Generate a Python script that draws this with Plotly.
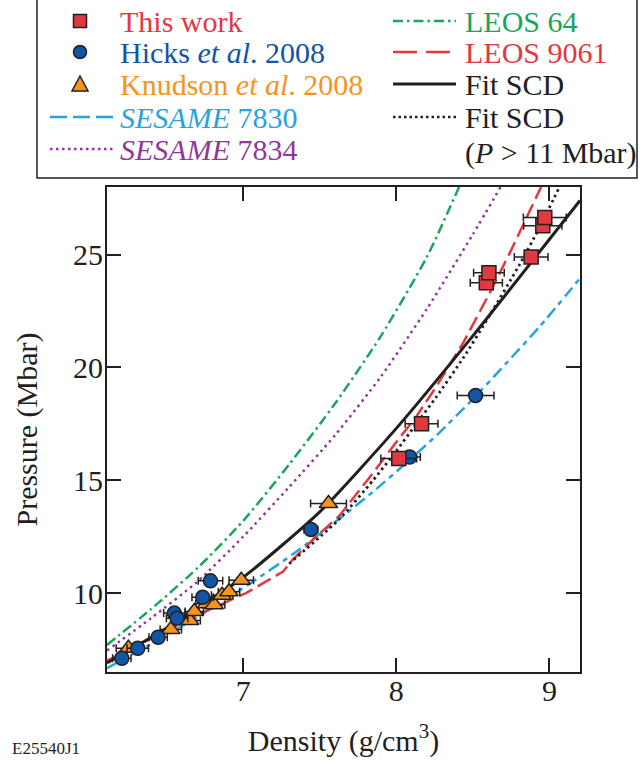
import plotly.graph_objects as go

# ---------------- data ----------------
this_work_rho = [8.016, 8.165, 8.588, 8.605, 8.881, 8.957, 8.970]
this_work_p = [15.96, 17.51, 23.76, 24.20, 24.90, 26.28, 26.65]
this_work_err = [0.117, 0.107, 0.105, 0.10, 0.11, 0.125, 0.14]

hicks_rho = [6.207, 6.311, 6.444, 6.550, 6.568, 6.735, 6.786, 7.442, 8.087, 8.518]
hicks_p = [7.11, 7.55, 8.04, 9.11, 8.88, 9.81, 10.54, 12.82, 16.03, 18.76]
hicks_err = [0.06, 0.07, 0.06, 0.07, 0.07, 0.07, 0.08, 0.045, 0.07, 0.12]

knudson_rho = [6.250, 6.527, 6.650, 6.680, 6.760, 6.810, 6.862, 6.907, 6.987, 7.557]
knudson_p = [7.55, 8.38, 8.78, 9.18, 9.52, 9.48, 9.90, 10.06, 10.57, 13.97]
knudson_err = [0.08, 0.07, 0.07, 0.06, 0.07, 0.07, 0.07, 0.07, 0.08, 0.117]

sesame7830_rho = [6.11, 6.44, 6.75, 7.04, 7.33, 7.63, 7.85, 8.07, 8.28, 8.50, 8.72, 8.935, 9.2]
sesame7830_p = [6.67, 7.9, 9.15, 10.4, 11.75, 13.3, 14.5, 15.8, 17.1, 18.6, 20.2, 21.8, 23.95]

sesame7834_rho = [6.11, 6.4, 6.7, 7.0, 7.3, 7.6, 7.9, 8.2, 8.5, 8.69]
sesame7834_p = [7.45, 8.9, 10.5, 12.5, 14.7, 17.0, 19.6, 22.6, 25.9, 28.1]

leos64_rho = [6.11, 6.4, 6.7, 7.0, 7.3, 7.6, 7.9, 8.2, 8.41]
leos64_p = [7.7, 9.3, 11.1, 13.2, 15.7, 18.4, 21.4, 24.9, 28.0]

leos9061_rho = [6.11, 6.43, 6.757, 7.018, 7.19, 7.26, 7.32, 7.453, 7.631, 7.848,
                7.978, 8.131, 8.262, 8.435, 8.609, 8.74, 8.946]
leos9061_p = [7.0, 8.07, 9.2, 10.0, 10.65, 10.95, 11.46, 12.35, 13.45, 15.32,
              16.5, 17.83, 19.16, 21.07, 23.29, 25.06, 28.0]

fit_rho = [6.11, 6.5, 7.0, 7.5, 8.0, 8.5, 9.2]
fit_p = [6.9, 8.45, 10.7, 13.6, 17.3, 21.4, 27.4]

fit11_rho = [7.3, 7.631, 7.848, 8.0, 8.131, 8.262, 8.435, 8.609, 8.8, 8.935, 9.066]
fit11_p = [11.3, 13.3, 15.0, 16.3, 17.5, 18.7, 20.4, 22.3, 24.5, 26.2, 28.0]

x_ticks = [7, 8, 9]
y_ticks = [10, 15, 20, 25]

# ---------------- styles ----------------
FONT = "Liberation Serif, Times New Roman, serif"
INK = "#231f20"
RED = "#e2383f"
DBLUE = "#1155a5"
ORANGE = "#f7941d"
LBLUE = "#27a3dd"
PURPLE = "#92379b"
GREEN = "#1aa55a"

fig = go.Figure()

curves = [
    ("SESAME 7830", sesame7830_rho, sesame7830_p, LBLUE, "12px,5px,5px,5px", 2.5, "spline"),
    ("SESAME 7834", sesame7834_rho, sesame7834_p, PURPLE, "2.5px,4px", 2.5, "spline"),
    ("LEOS 64", leos64_rho, leos64_p, GREEN, "10px,4px,2.5px,4px", 2.5, "spline"),
    ("LEOS 9061", leos9061_rho, leos9061_p, RED, "15px,6px", 2.5, "linear"),
    ("Fit SCD (P > 11 Mbar)", fit11_rho, fit11_p, INK, "2.5px,3.5px", 2.8, "spline"),
    ("Fit SCD", fit_rho, fit_p, INK, "solid", 3, "spline"),
]
for name, xs, ys, col, dash, w, shp in curves:
    fig.add_trace(go.Scatter(
        x=xs, y=ys, mode="lines", name=name, showlegend=False,
        line=dict(color=col, width=w, dash=dash, shape=shp, smoothing=0.6),
        hoverinfo="skip"))

markers = [
    ("Knudson et al. 2008", knudson_rho, knudson_p, knudson_err, "triangle-up", 16, ORANGE),
    ("Hicks et al. 2008", hicks_rho, hicks_p, hicks_err, "circle", 14, DBLUE),
    ("This work", this_work_rho, this_work_p, this_work_err, "square", 14, RED),
]
for name, xs, ys, err, sym, size, col in markers:
    fig.add_trace(go.Scatter(
        x=xs, y=ys, mode="markers", name=name, showlegend=False,
        marker=dict(symbol=sym, size=size, color=col, line=dict(color=INK, width=1.5)),
        error_x=dict(type="data", array=err, visible=True, color=INK, thickness=1.5, width=4)))

# ---------------- layout ----------------
WIN_W, WIN_H = 642, 765
L, R, T, B = 107, 580, 187, 672
W, H = R - L, B - T


def X(px):
    return (px - L) / W


def Y(py):
    return (B - py) / H


axis_common = dict(
    showline=True, linewidth=2, linecolor=INK, mirror="ticks",
    ticks="inside", ticklen=14, tickwidth=1.5, tickcolor=INK,
    showgrid=False, zeroline=False,
    tickfont=dict(family=FONT, size=30, color=INK),
)

fig.update_layout(
    width=WIN_W, height=WIN_H,
    margin=dict(l=L, r=WIN_W - R, t=T, b=WIN_H - B, pad=0),
    paper_bgcolor="white", plot_bgcolor="white",
    font=dict(family=FONT, size=30, color=INK),
    showlegend=False,
    xaxis=dict(range=[6.11, 9.2], tickvals=x_ticks, ticktext=[str(v) for v in x_ticks],
               ticklabelstandoff=-9,
               title=dict(text="Density (g/cm<sup>3</sup>)", standoff=24,
                          font=dict(family=FONT, size=30, color=INK)),
               **axis_common),
    yaxis=dict(range=[6.5, 28], tickvals=y_ticks, ticktext=[str(v) for v in y_ticks],
               ticklabelstandoff=-4,
               title=dict(text="Pressure (Mbar)", standoff=27,
                          font=dict(family=FONT, size=30, color=INK)),
               **axis_common),
)

# ---------------- hand-drawn legend ----------------
shapes = []
annos = []
shapes.append(dict(type="rect", xref="paper", yref="paper",
                   x0=X(37), x1=X(637), y0=Y(178), y1=Y(-10),
                   line=dict(color=INK, width=1.5), fillcolor="rgba(0,0,0,0)"))

rows = [21, 52, 84, 117, 149]
c1_text, c2_text = 118, 463
c1_l0, c1_l1 = 50, 113
c2_l0, c2_l1 = 393, 456
mx = 80

s = 6.5
shapes.append(dict(type="rect", xref="paper", yref="paper",
                   x0=X(mx - s), x1=X(mx + s), y0=Y(rows[0] + s), y1=Y(rows[0] - s),
                   fillcolor=RED, line=dict(color=INK, width=1.5)))
shapes.append(dict(type="circle", xref="paper", yref="paper",
                   x0=X(mx - s), x1=X(mx + s), y0=Y(rows[1] + s), y1=Y(rows[1] - s),
                   fillcolor=DBLUE, line=dict(color=INK, width=1.5)))
ty = rows[2]
tri = "M {},{} L {},{} L {},{} Z".format(X(mx - 8), Y(ty + 7), X(mx + 8), Y(ty + 7), X(mx), Y(ty - 8))
shapes.append(dict(type="path", xref="paper", yref="paper", path=tri,
                   fillcolor=ORANGE, line=dict(color=INK, width=1.5)))

legend_lines = [
    (c1_l0, c1_l1, rows[3], LBLUE, "17px,6px", 2.5),
    (c1_l0, c1_l1, rows[4], PURPLE, "2.5px,3.5px", 2.5),
    (c2_l0, c2_l1, rows[0], GREEN, "10px,4px,2.5px,4px", 2.5),
    (c2_l0, c2_l1, rows[1], RED, "24px,9px", 2.5),
    (c2_l0, c2_l1, rows[2], INK, "solid", 3),
    (c2_l0, c2_l1, rows[3], INK, "2.5px,3px", 2.5),
]
for x0, x1, yy, col, dash, w in legend_lines:
    shapes.append(dict(type="line", xref="paper", yref="paper",
                       x0=X(x0), x1=X(x1), y0=Y(yy), y1=Y(yy),
                       line=dict(color=col, width=w, dash=dash)))

legend_texts = [
    (c1_text, rows[0], "This work", RED),
    (c1_text, rows[1], "Hicks <i>et al</i>. 2008", DBLUE),
    (c1_text, rows[2], "Knudson <i>et al</i>. 2008", ORANGE),
    (c1_text, rows[3], "<i>SESAME</i> 7830", LBLUE),
    (c1_text, rows[4], "<i>SESAME</i> 7834", PURPLE),
    (c2_text, rows[0], "LEOS 64", GREEN),
    (c2_text, rows[1], "LEOS 9061", RED),
    (c2_text, rows[2], "Fit SCD", INK),
    (c2_text, rows[3], "Fit SCD", INK),
    (c2_text, rows[4] + 4, "(<i>P</i> &gt; 11 Mbar)", INK),
]
for px, py, txt, col in legend_texts:
    annos.append(dict(xref="paper", yref="paper", x=X(px), y=Y(py), text=txt,
                      showarrow=False, xanchor="left", yanchor="middle",
                      font=dict(family=FONT, size=30, color=col)))

annos.append(dict(xref="paper", yref="paper", x=X(10), y=Y(748), text="E25540J1",
                  showarrow=False, xanchor="left", yanchor="middle",
                  font=dict(family=FONT, size=17, color=INK)))

fig.update_layout(shapes=shapes, annotations=annos)

# remove the default page margin so the figure sits at the window's corner
fig.write_html("out.html",
               config={"displayModeBar": False},
               post_script="document.body.style.margin='0';document.body.style.padding='0';")
